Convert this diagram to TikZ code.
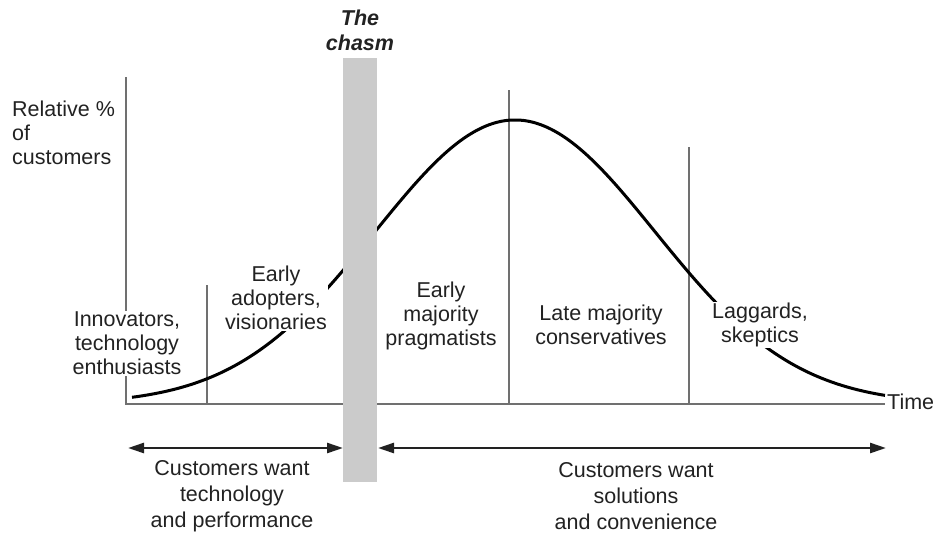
\documentclass[tikz,border=0pt]{standalone}
\usepackage{fontspec}
\setmainfont{Liberation Sans}
\usetikzlibrary{arrows.meta}
\definecolor{txt}{HTML}{222222}
\definecolor{axisgray}{HTML}{707070}
\definecolor{chasmgray}{HTML}{CBCBCB}
\begin{document}
\begin{tikzpicture}[x=1pt,y=-1pt,
  lbl/.style={font=\fontsize{21.5}{24}\selectfont, text=txt, align=center, fill=white, inner sep=1pt},
  gline/.style={draw=axisgray, line width=2pt},
  curve/.style={draw=black, line width=3pt},
  span/.style={draw=txt, line width=2.5pt, {Triangle[length=16pt,width=10pt]}-{Triangle[length=16pt,width=10pt]}}]
\useasboundingbox (0,0) rectangle (940,533);
% coordinates
\coordinate (ytop) at (126,77);
\coordinate (orig) at (126,404);
\coordinate (xend) at (885,404);
\coordinate (l1t) at (207,285);
\coordinate (l1b) at (207,404);
\coordinate (l2t) at (509,90);
\coordinate (l2b) at (509,404);
\coordinate (l3t) at (689,147);
\coordinate (l3b) at (689,404);
\coordinate (a1s) at (128,448);
\coordinate (a1e) at (343,448);
\coordinate (a2s) at (378,448);
\coordinate (a2e) at (886,448);
% axes and dividers
\draw[gline] (ytop) -- (orig) -- (xend);
\draw[gline] (l1t) -- (l1b);
\draw[gline] (l2t) -- (l2b);
\draw[gline] (l3t) -- (l3b);
% bell curve
\draw[curve] plot[domain=132:885, samples=160, smooth] (\x, {404-284*exp(-0.5*((\x-515)/140)*((\x-515)/140))});
% chasm
\node[fill=chasmgray, minimum width=34pt, minimum height=424pt, inner sep=0pt, anchor=north west] (chasm) at (343,58) {};
% labels
\node[lbl, font=\fontsize{21.5}{25}\selectfont\bfseries\itshape, fill=none] (title) at (360,30.5) {The\\chasm};
\node[lbl, align=left, anchor=west, fill=none] (ylab) at (11,132.5) {Relative \%\\of\\customers};
\node[lbl, anchor=west, fill=none] (time) at (886,402) {Time};
\node[lbl] (innov) at (127,343) {Innovators,\\technology\\enthusiasts};
\node[lbl] (early) at (276,298) {Early\\adopters,\\visionaries};
\node[lbl] (emaj) at (441,316) {Early\\majority\\pragmatists};
\node[lbl] (lmaj) at (601,325) {Late majority\\conservatives};
\node[lbl] (lag) at (760,325) {Laggards,\\skeptics};
% arrows
\draw[span] (a1s) -- (a1e);
\draw[span] (a2s) -- (a2e);
\node[lbl, font=\fontsize{21.5}{26}\selectfont] (want1) at (232,496) {Customers want\\technology\\and performance};
\node[lbl, font=\fontsize{21.5}{26}\selectfont] (want2) at (636,496) {Customers want\\solutions\\and convenience};
\end{tikzpicture}
\end{document}
